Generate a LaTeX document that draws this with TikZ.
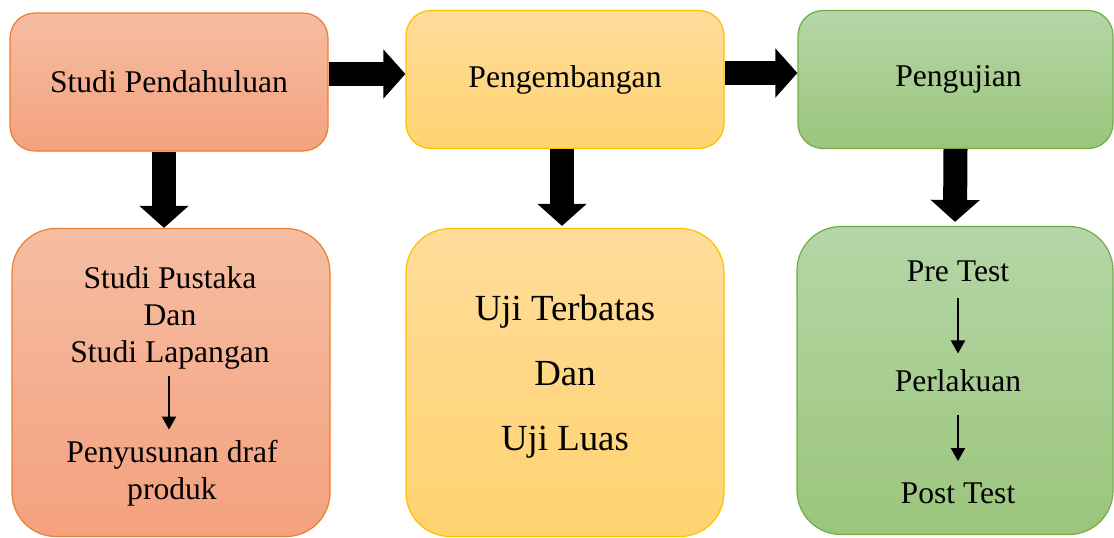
\documentclass[tikz,border=0pt]{standalone}
\usepackage{fontspec}
\setmainfont{Liberation Serif}
\usetikzlibrary{arrows.meta}
\definecolor{oranyeA}{HTML}{F5BDA2}
\definecolor{oranyeB}{HTML}{F4A17E}
\definecolor{oranyeG}{HTML}{ED7D31}
\definecolor{kuningA}{HTML}{FFDC9B}
\definecolor{kuningB}{HTML}{FFD36F}
\definecolor{kuningG}{HTML}{FFC000}
\definecolor{hijauA}{HTML}{B5D6A6}
\definecolor{hijauB}{HTML}{9BC57C}
\definecolor{hijauG}{HTML}{70AD47}
\begin{document}
\begin{tikzpicture}[x=0.5pt,y=-0.5pt, line join=round,
  kotak/.style={rounded corners=12.5pt, minimum width=159pt, minimum height=69pt, inner sep=0pt, line width=0.6pt, font=\fontsize{15.8}{19}\selectfont},
  isi/.style={rounded corners=22pt, minimum width=159pt, minimum height=154pt, inner sep=0pt, line width=0.6pt},
  oranye/.style={top color=oranyeA, bottom color=oranyeB, draw=oranyeG},
  kuning/.style={top color=kuningA, bottom color=kuningB, draw=kuningG},
  hijau/.style={top color=hijauA, bottom color=hijauB, draw=hijauG},
  teks/.style={inner sep=0pt, align=center, font=\fontsize{15.8}{18.5}\selectfont},
  panah/.style={line width=12pt, -{Triangle[width=24pt,length=11pt]}},
  panahkecil/.style={line width=1pt, -{Triangle[width=7pt,length=6.5pt]}}]
\useasboundingbox (0,0) rectangle (1114,537);
% baris atas
\node[kotak,oranye] (s1) at (169,82) {Studi Pendahuluan};
\node[kotak,kuning] (s2) at (565,79.5) {Pengembangan};
\node[kotak,hijau, minimum width=157.5pt] (s3) at (955.5,79.5) {\hspace{3pt}Pengujian};
% baris bawah
\node[isi,oranye] (d1) at (171,382.5) {};
\node[isi,kuning] (d2) at (565,382.5) {};
\node[isi,hijau, minimum width=158pt] (d3) at (955,380.5) {};
% panah tebal
\draw[panah] ([yshift=4pt]s1.east) -- ([yshift=2.75pt]s2.west);
\draw[panah] ([yshift=3.25pt]s2.east) -- ([yshift=3.25pt]s3.west);
\draw[panah] ([xshift=-2.5pt]s1.south) -- ([xshift=-3.5pt]d1.north);
\draw[panah] ([xshift=-1.5pt]s2.south) -- ([xshift=-1.5pt,yshift=1pt]d2.north);
\draw[panah] (s3.south) -- ([yshift=2pt]d3.north);
% isi kotak 1
\node[teks] (pustaka) at (170,318) {Studi Pustaka\\Dan\\Studi Lapangan};
\node[teks] (draf) at (172,473) {Penyusunan draf\\produk};
\draw[panahkecil] ([xshift=-0.5pt,yshift=-3pt]pustaka.south) -- ([xshift=-1.5pt,yshift=5pt]draf.north);
% isi kotak 2
\node[teks, font=\fontsize{18.4}{32.5}\selectfont] (uji) at (565,377) {Uji Terbatas\\Dan\\Uji Luas};
% isi kotak 3
\node[teks] (pre) at (958,271) {Pre Test};
\node[teks] (perlakuan) at (958,381) {Perlakuan};
\node[teks] (post) at (958,493) {Post Test};
\draw[panahkecil] ([yshift=-8pt]pre.south) -- ([yshift=8pt]perlakuan.north);
\draw[panahkecil] ([yshift=-11pt]perlakuan.south) -- ([yshift=10.5pt]post.north);
\end{tikzpicture}
\end{document}
